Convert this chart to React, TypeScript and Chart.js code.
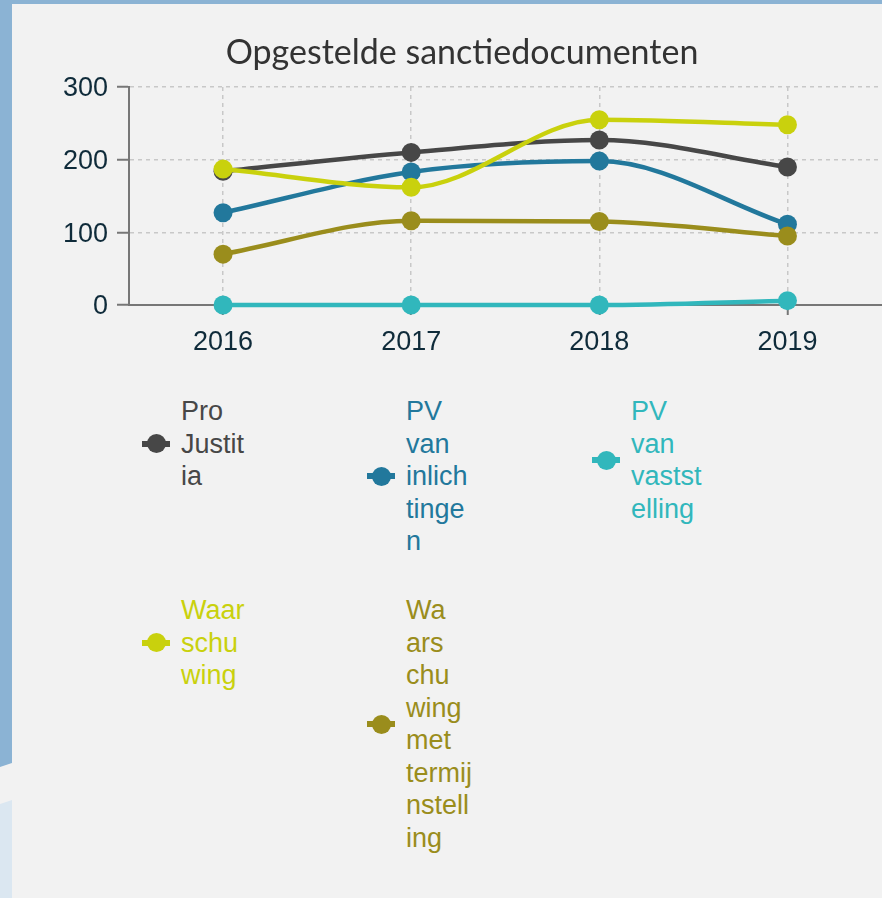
import React, { useEffect, useRef } from "react";
import { Chart, registerables } from "chart.js";

Chart.register(...registerables);

const chartTitle = "Opgestelde sanctiedocumenten";
const categories = ["2016", "2017", "2018", "2019"];
const seriesNames = [
  "Pro Justitia",
  "PV van inlichtingen",
  "PV van vaststelling",
  "Waarschuwing",
  "Waarschuwing met termijnstelling",
];
const proJustitia = [184, 210, 227, 190];
const pvInlichtingen = [127, 183, 198, 111];
const pvVaststelling = [0, 0, 0, 6];
const waarschuwing = [187, 162, 255, 248];
const waarschuwingTermijn = [70, 116, 115, 95];
const seriesValues = [proJustitia, pvInlichtingen, pvVaststelling, waarschuwing, waarschuwingTermijn];
const seriesColors = ["#474747", "#22789c", "#31b7bc", "#c9d10d", "#9a8d1c"];
// legend labels as wrapped in the reference
const legendLines = [
  ["Pro", "Justit", "ia"],
  ["PV", "van", "inlich", "tinge", "n"],
  ["PV", "van", "vastst", "elling"],
  ["Waar", "schu", "wing"],
  ["Wa", "ars", "chu", "wing", "met", "termij", "nstell", "ing"],
];
const legendRows = [
  [0, 1, 2],
  [3, 4],
];
const yMin = 0;
const yMax = 300;
const yStep = 100;

const FONT = "'Liberation Sans', Arial, sans-serif";

function Marker({ color }: { color: string }) {
  return (
    <div style={{ position: "relative", width: 28, height: 20, flex: "0 0 28px" }}>
      <div style={{ position: "absolute", left: 0, top: 7, width: 28, height: 6, background: color }} />
      <div
        style={{
          position: "absolute",
          left: 4.5,
          top: 0.5,
          width: 19,
          height: 19,
          borderRadius: "50%",
          background: color,
        }}
      />
    </div>
  );
}

export default function App() {
  const canvasRef = useRef<HTMLCanvasElement | null>(null);

  useEffect(() => {
    const canvas = canvasRef.current;
    if (!canvas) return;
    const n = seriesNames.length;
    const chart = new Chart(canvas, {
      type: "line",
      data: {
        labels: categories,
        datasets: seriesNames.map((name, i) => ({
          label: name,
          data: seriesValues[i],
          borderColor: seriesColors[i],
          backgroundColor: seriesColors[i],
          pointBackgroundColor: seriesColors[i],
          pointBorderColor: seriesColors[i],
          borderWidth: 4.5,
          pointRadius: 9.5,
          pointBorderWidth: 0,
          cubicInterpolationMode: "monotone" as const,
          fill: false,
          clip: false as any,
          order: n - 1 - i,
        })),
      },
      options: {
        animation: false,
        responsive: false,
        devicePixelRatio: 1,
        layout: { padding: { left: 21, right: 0, top: 0, bottom: 0 } },
        plugins: {
          legend: { display: false },
          tooltip: { enabled: false },
          title: {
            display: true,
            text: chartTitle,
            color: "#333333",
            font: { family: "Lato, 'Open Sans', sans-serif", size: 34, weight: "normal" as any },
            padding: { top: 29, bottom: 13.2 },
          },
        },
        scales: {
          x: {
            type: "category",
            offset: true,
            afterFit: (s: any) => {
              s.height = 69;
            },
            grid: {
              display: true,
              color: "#c8c8c8",
              lineWidth: 1.5,
              drawTicks: true,
              tickLength: 10,
              tickColor: "#777777",
              tickWidth: 2,
              tickBorderDash: [],
            } as any,
            border: { display: true, color: "#777777", width: 2, dash: [4, 4] } as any,
            ticks: {
              color: "#0f2b3a",
              padding: 11,
              font: { family: FONT, size: 27 },
            },
          },
          y: {
            type: "linear",
            min: yMin,
            max: yMax,
            afterFit: (s: any) => {
              s.width = 96;
            },
            grid: {
              display: true,
              color: "#c8c8c8",
              lineWidth: 1.5,
              drawTicks: true,
              tickLength: 12,
              tickColor: "#777777",
              tickWidth: 2,
              tickBorderDash: [],
            } as any,
            border: { display: true, color: "#777777", width: 2, dash: [4, 4] } as any,
            ticks: {
              stepSize: yStep,
              color: "#0f2b3a",
              padding: 9,
              labelOffset: 2,
              font: { family: FONT, size: 27 },
            },
          },
        },
      },
    });
    return () => chart.destroy();
  }, []);

  return (
    <div
      style={{
        position: "absolute",
        left: 0,
        top: 0,
        width: 882,
        height: 898,
        overflow: "hidden",
        background: "#f2f2f2",
        fontFamily: FONT,
      }}
    >
      {/* background decorations */}
      <div style={{ position: "absolute", left: 0, top: 0, width: 882, height: 4, background: "#8bb3d4" }} />
      <div
        style={{
          position: "absolute",
          left: 0,
          top: 0,
          width: 12,
          height: 898,
          background: "#8bb3d4",
          clipPath: "polygon(0 0, 12px 0, 12px 763px, 0 767px)",
        }}
      />
      <div
        style={{
          position: "absolute",
          left: 0,
          top: 0,
          width: 12,
          height: 898,
          background: "#dbe7f1",
          clipPath: "polygon(0 804px, 12px 800px, 12px 898px, 0 898px)",
        }}
      />
      <div style={{ position: "absolute", left: 12, top: 4, width: 870, height: 894, background: "#f2f2f2" }} />

      <canvas
        ref={canvasRef}
        width={879}
        height={370}
        style={{ position: "absolute", left: 12, top: 4, width: 879, height: 370 }}
      />

      {/* legend */}
      {legendRows.map((row, r) => (
        <div
          key={r}
          style={{
            position: "absolute",
            left: 142,
            top: r === 0 ? 395 : 594,
            display: "flex",
            alignItems: "flex-start",
          }}
        >
          {row.map((idx) => (
            <div
              key={idx}
              style={{ width: 225, display: "flex", alignItems: "center" }}
              title={seriesNames[idx]}
            >
              <Marker color={seriesColors[idx]} />
              <div
                style={{
                  marginLeft: 11,
                  color: seriesColors[idx],
                  fontSize: 27,
                  lineHeight: "32.5px",
                  fontFamily: FONT,
                }}
              >
                {legendLines[idx].map((t, k) => (
                  <div key={k}>{t}</div>
                ))}
              </div>
            </div>
          ))}
        </div>
      ))}
    </div>
  );
}
